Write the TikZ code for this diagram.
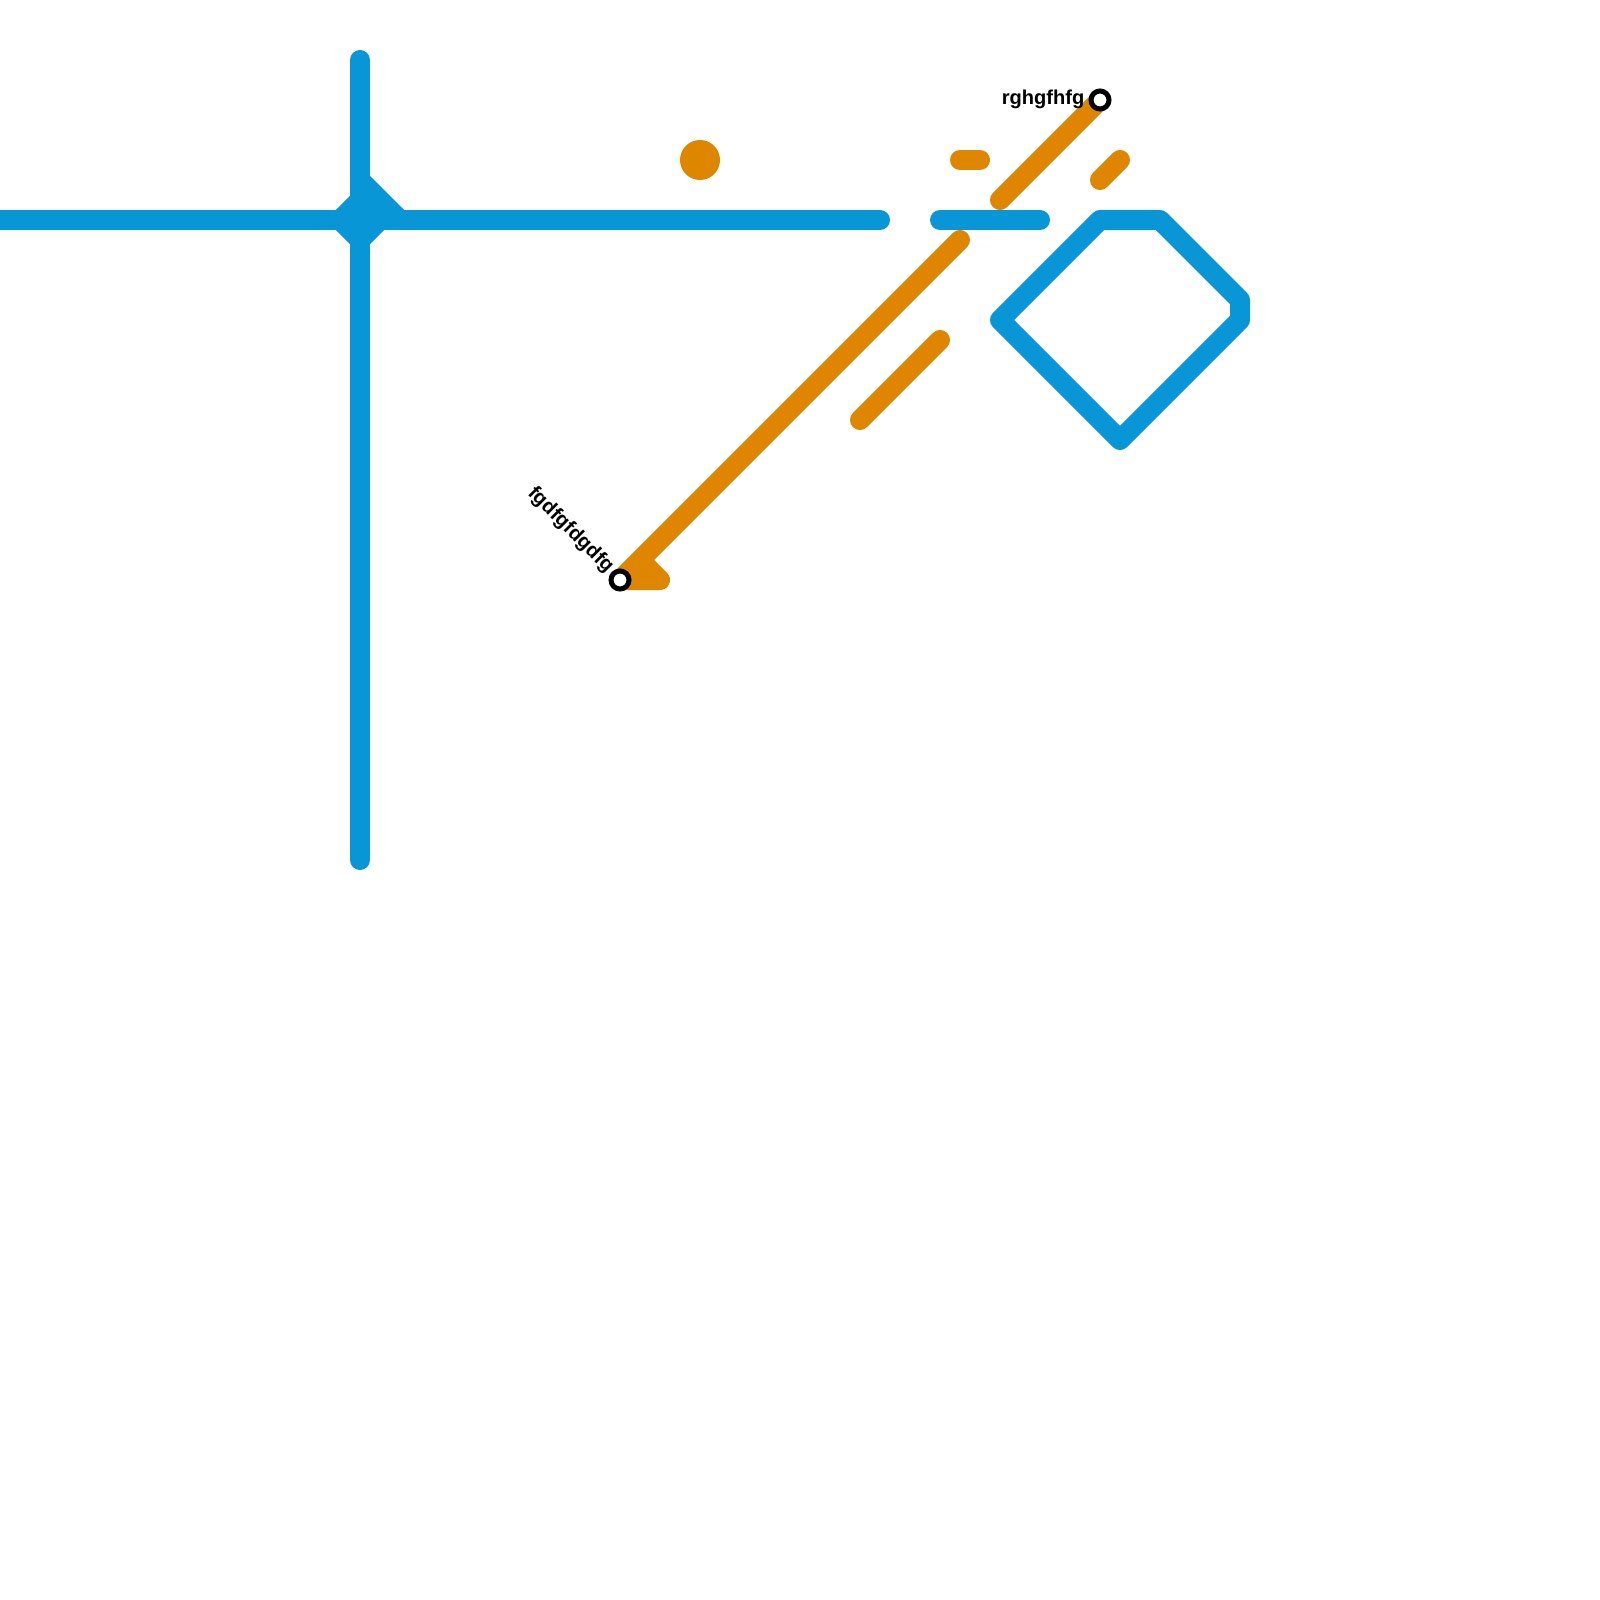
\documentclass[tikz,border=0pt]{standalone}
\usepackage{fontspec}
\setmainfont{Liberation Sans}
\definecolor{lineblue}{HTML}{0896D7}
\definecolor{lineorange}{HTML}{DF8600}
\tikzset{
  x=0.01cm,y=-0.01cm,
  blueline/.style={draw=lineblue,line width=2mm,line cap=round,line join=round},
  orangeline/.style={draw=lineorange,line width=2mm,line cap=round,line join=round},
  stationring/.style={circle,draw=black,fill=white,line width=0.5mm,minimum size=1.8mm,inner sep=0pt},
  stationlabel/.style={font=\bfseries\fontsize{5.7pt}{6pt}\selectfont,text=black,inner sep=0pt}
}
\begin{document}
\begin{tikzpicture}
\useasboundingbox (0,0) rectangle (1600,1600);
\clip (0,0) rectangle (1600,1600);
\fill[white] (0,0) rectangle (1600,1600);
% named points
\coordinate (vt) at (360,60);
\coordinate (vb) at (360,860);
\coordinate (hl) at (0,220);
\coordinate (hr) at (880,220);
\coordinate (h2l) at (940,220);
\coordinate (h2r) at (1040,220);
\coordinate (p1) at (1000,320);
\coordinate (p2) at (1100,220);
\coordinate (p3) at (1160,220);
\coordinate (p4) at (1240,300);
\coordinate (p5) at (1240,320);
\coordinate (p6) at (1120,440);
\coordinate (d1) at (360,180);
\coordinate (d2) at (400,220);
\coordinate (d3) at (360,240);
\coordinate (d4) at (340,220);
\coordinate (d5) at (360,200);
\coordinate (d6) at (380,220);
\coordinate (o1) at (960,240);
\coordinate (o2) at (640,560);
\coordinate (o3) at (660,580);
\coordinate (o4) at (860,420);
\coordinate (o5) at (940,340);
\coordinate (o6) at (960,160);
\coordinate (o7) at (980,160);
\coordinate (o8) at (1000,200);
\coordinate (o9) at (1100,180);
\coordinate (o10) at (1120,160);
\coordinate (sa) at (620,580);
\coordinate (sb) at (1100,100);
% blue
\draw[blueline] (vt) -- (vb);
\draw[blueline] (hl) -- (hr);
\draw[blueline] (h2l) -- (h2r);
\draw[blueline,line join=miter] (d1) -- (d2);
\fill[lineblue] (d5) -- (d6) -- (d3) -- (d4) -- cycle;
\draw[blueline,line join=miter,line cap=butt] (d5) -- (d6) -- (d3) -- (d4) -- cycle;
\draw[blueline] (p1) -- (p2) -- (p3) -- (p4) -- (p5) -- (p6) -- cycle;
% orange
\node[circle,fill=lineorange,minimum size=4mm,inner sep=0pt] (dot) at (700,160) {};
\draw[orangeline] (o6) -- (o7);
\draw[orangeline] (o4) -- (o5);
\draw[orangeline] (o9) -- (o10);
\draw[orangeline] (o1) -- (sa) -- (o2) -- (o3) -- (sa);
\draw[orangeline] (o8) -- (sb);
% stations
\node[stationring] (stA) at (sa) {};
\node[stationring] (stB) at (sb) {};
\node[stationlabel,anchor=base east] (lbB) at (1085,105) {rghgfhfg};
\node[stationlabel,anchor=base east,rotate=-45] (lbA) at (607,574) {fgdfgfdgdfg};
\end{tikzpicture}
\end{document}
